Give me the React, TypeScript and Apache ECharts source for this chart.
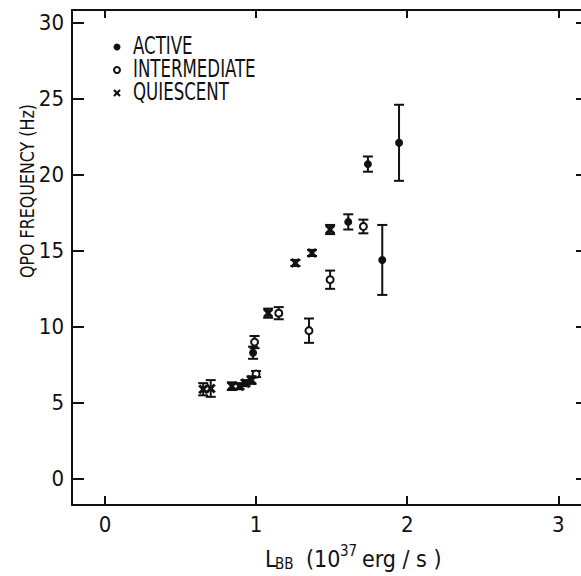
import React, { useEffect, useRef } from "react";
import * as echarts from "echarts";

// ACTIVE (filled circles): L_BB, QPO freq, error
const activeX = [0.98, 1.61, 1.74, 1.835, 1.946];
const activeY = [8.3, 16.9, 20.7, 14.4, 22.1];
const activeErr = [0.4, 0.5, 0.5, 2.3, 2.5];

// INTERMEDIATE (open circles)
const interX = [1.0, 0.99, 1.15, 1.35, 1.49, 1.71];
const interY = [6.9, 9.0, 10.9, 9.75, 13.1, 16.6];
const interErr = [0.2, 0.4, 0.4, 0.8, 0.6, 0.45];

// QUIESCENT (crosses)
const quiesX = [0.65, 0.70, 0.84, 0.89, 0.93, 0.97, 1.08, 1.26, 1.37, 1.49];
const quiesY = [5.9, 5.95, 6.1, 6.1, 6.3, 6.5, 10.9, 14.2, 14.86, 16.4];
const quiesErr = [0.4, 0.55, 0.25, 0.2, 0.2, 0.25, 0.3, 0.2, 0.2, 0.3];

const xTicks = [0, 1, 2, 3];
const yTicks = [0, 5, 10, 15, 20, 25, 30];

const legendNames = ["ACTIVE", "INTERMEDIATE", "QUIESCENT"];
const yTitle = "QPO FREQUENCY (Hz)";

const FONT = "'DejaVu Sans Condensed', 'Liberation Sans Narrow', sans-serif";
const INK = "#111";

function rows(xs: number[], ys: number[], es: number[]) {
  return xs.map((x, i) => [x, ys[i], es[i]]);
}

function makeRender(kind: "active" | "inter" | "quies") {
  return (params: any, api: any) => {
    const x = api.value(0);
    const y = api.value(1);
    const e = api.value(2);
    const c = api.coord([x, y]);
    const t = api.coord([x, y + e]);
    const b = api.coord([x, y - e]);
    const cap = 5;
    const st = { stroke: INK, lineWidth: 2 };
    const children: any[] = [
      { type: "line", shape: { x1: c[0], y1: t[1], x2: c[0], y2: b[1] }, style: st },
      { type: "line", shape: { x1: c[0] - cap, y1: t[1], x2: c[0] + cap, y2: t[1] }, style: st },
      { type: "line", shape: { x1: c[0] - cap, y1: b[1], x2: c[0] + cap, y2: b[1] }, style: st },
    ];
    if (kind === "active") {
      children.push({ type: "circle", shape: { cx: c[0], cy: c[1], r: 4 }, style: { fill: INK } });
    } else if (kind === "inter") {
      children.push({
        type: "circle",
        shape: { cx: c[0], cy: c[1], r: 3.5 },
        style: { fill: "#fff", stroke: INK, lineWidth: 2 },
      });
    } else {
      const s = 4;
      children.push({ type: "line", shape: { x1: c[0] - s, y1: c[1] - s, x2: c[0] + s, y2: c[1] + s }, style: { stroke: INK, lineWidth: 3 } });
      children.push({ type: "line", shape: { x1: c[0] - s, y1: c[1] + s, x2: c[0] + s, y2: c[1] - s }, style: { stroke: INK, lineWidth: 3 } });
    }
    return { type: "group", children };
  };
}

export default function App() {
  const ref = useRef<HTMLDivElement>(null);
  useEffect(() => {
    document.body.style.margin = "0";
    if (!ref.current) return;
    const chart = echarts.init(ref.current, undefined, { renderer: "svg" });
    const axisLine = { show: true, onZero: false, lineStyle: { color: INK, width: 2 } };
    const labelStyle = { color: INK, fontSize: 22, fontFamily: FONT };
    const xMin = -0.218;
    const xMax = 3.15;
    const yMin = -1.71;
    const yMax = 30.83;
    const series: any[] = [
      { name: legendNames[1], data: rows(interX, interY, interErr), kind: "inter" },
      { name: legendNames[2], data: rows(quiesX, quiesY, quiesErr), kind: "quies" },
      { name: legendNames[0], data: rows(activeX, activeY, activeErr), kind: "active" },
    ].map((s) => ({
      type: "custom",
      name: s.name,
      coordinateSystem: "cartesian2d",
      xAxisIndex: 0,
      yAxisIndex: 0,
      encode: { x: 0, y: 1 },
      renderItem: makeRender(s.kind as any),
      data: s.data,
      clip: false,
    }));

    const lx = 117;
    const tx = 133;
    const ly = [47, 70, 93];
    const legendText = (i: number) => ({
      type: "text",
      x: tx,
      y: ly[i] - 1,
      scaleX: 0.77,
      style: {
        text: legendNames[i],
        fontFamily: FONT,
        fontSize: 24,
        fill: INK,
        align: "left",
        verticalAlign: "middle",
      },
    });
    const sub = (text: string, x: number, y: number, size: number) => ({
      type: "text",
      x,
      y,
      style: { text, fontFamily: FONT, fontSize: size, fill: INK, align: "left", verticalAlign: "middle" },
    });

    chart.setOption({
      animation: false,
      backgroundColor: "#fff",
      grid: { left: 72, top: 10, right: 0, bottom: 71, containLabel: false },
      xAxis: [
        {
          type: "value",
          min: xMin,
          max: xMax,
          position: "bottom",
          axisLine,
          axisTick: { show: true, inside: true, length: 9, customValues: xTicks, lineStyle: { color: INK, width: 2 } },
          axisLabel: { ...labelStyle, customValues: xTicks, margin: 8 },
          splitLine: { show: false },
        },
        {
          type: "value",
          min: xMin,
          max: xMax,
          position: "top",
          axisLine,
          axisTick: { show: true, inside: true, length: 8, customValues: xTicks, lineStyle: { color: INK, width: 2 } },
          axisLabel: { show: false },
          splitLine: { show: false },
        },
      ],
      yAxis: [
        {
          type: "value",
          min: yMin,
          max: yMax,
          position: "left",
          axisLine,
          axisTick: { show: true, inside: true, length: 12, customValues: yTicks, lineStyle: { color: INK, width: 2 } },
          axisLabel: { ...labelStyle, customValues: yTicks, margin: 8 },
          splitLine: { show: false },
        },
        {
          type: "value",
          min: yMin,
          max: yMax,
          position: "right",
          axisLine: { show: false, onZero: false },
          axisTick: { show: true, inside: true, length: 5, customValues: yTicks, lineStyle: { color: INK, width: 2 } },
          axisLabel: { show: false },
          splitLine: { show: false },
        },
      ],
      series,
      graphic: [
        { type: "circle", shape: { cx: lx, cy: ly[0], r: 3.5 }, style: { fill: INK } },
        { type: "circle", shape: { cx: lx, cy: ly[1], r: 3 }, style: { fill: "#fff", stroke: INK, lineWidth: 2 } },
        { type: "line", shape: { x1: lx - 3, y1: ly[2] - 3, x2: lx + 3, y2: ly[2] + 3 }, style: { stroke: INK, lineWidth: 2.2 } },
        { type: "line", shape: { x1: lx - 3, y1: ly[2] + 3, x2: lx + 3, y2: ly[2] - 3 }, style: { stroke: INK, lineWidth: 2.2 } },
        legendText(0),
        legendText(1),
        legendText(2),
        {
          type: "text",
          x: 27,
          y: 191,
          rotation: Math.PI / 2,
          scaleX: 0.93,
          style: {
            text: yTitle,
            fontFamily: FONT,
            fontSize: 19,
            fill: INK,
            align: "center",
            verticalAlign: "middle",
          },
        },
        sub("L", 265, 559, 23),
        sub("BB", 275, 564, 15),
        sub("(10", 306, 559, 23),
        sub("37", 340, 551, 15),
        sub("erg / s )", 362, 559, 23),
      ],
    });
    return () => chart.dispose();
  }, []);
  return <div ref={ref} style={{ width: 581, height: 576 }} />;
}
